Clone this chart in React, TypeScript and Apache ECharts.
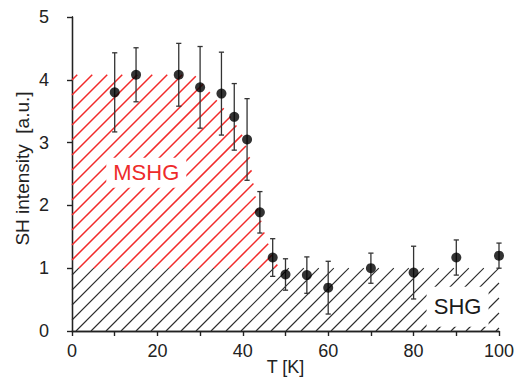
import React, { useEffect, useRef } from 'react';
import * as echarts from 'echarts';

// measured data (T in K, SH intensity in a.u., symmetric error)
const temperatures = [10, 15, 25, 30, 35, 38, 41, 44, 47, 50, 55, 60, 70, 80, 90, 100];
const intensities = [3.8, 4.08, 4.08, 3.88, 3.78, 3.41, 3.05, 1.89, 1.17, 0.9, 0.89, 0.69, 1.0, 0.93, 1.17, 1.2];
const errors = [0.63, 0.43, 0.5, 0.65, 0.66, 0.53, 0.65, 0.33, 0.3, 0.25, 0.29, 0.42, 0.24, 0.42, 0.28, 0.2];

// hatched regions (boundaries in data coordinates)
const mshgBoundaryT = [0, 28.7, 32.6, 36.9, 39.7, 41.6, 42.8, 44.7, 47, 48.6, 0];
const mshgBoundaryY = [4.08, 4.08, 3.78, 3.44, 3.15, 2.78, 2.2, 1.64, 1.18, 1.0, 1.0];
const shgBoundaryT = [0, 100, 100, 0];
const shgBoundaryY = [0, 0, 1, 1];

// region labels
const regionLabels = ['MSHG', 'SHG'];
const labelT = [17.4, 90.3];
const labelY = [2.52, 0.385];

// axis
const xMin = 0, xMax = 100, xStep = 10;
const yMin = 0, yMax = 5, yStep = 1;

const FONT = '"Liberation Sans", Arial, sans-serif';

function hatchLines(pts: number[][], spacing: number, phase: number) {
  const sums = pts.map((p) => p[0] + p[1]);
  const cMin = Math.min(...sums);
  const cMax = Math.max(...sums);
  const start = phase + Math.ceil((cMin - phase) / spacing) * spacing;
  const segs: number[][] = [];
  for (let c = start; c <= cMax; c += spacing) {
    const xs: number[] = [];
    for (let i = 0; i < pts.length; i++) {
      const a = pts[i];
      const b = pts[(i + 1) % pts.length];
      const fa = a[0] + a[1] - c;
      const fb = b[0] + b[1] - c;
      if ((fa < 0) !== (fb < 0)) {
        const t = fa / (fa - fb);
        xs.push(a[0] + t * (b[0] - a[0]));
      }
    }
    xs.sort((p, q) => p - q);
    for (let k = 0; k + 1 < xs.length; k += 2) {
      segs.push([xs[k], c - xs[k], xs[k + 1], c - xs[k + 1]]);
    }
  }
  return segs;
}

export default function App() {
  const ref = useRef<HTMLDivElement>(null);
  useEffect(() => {
    if (!ref.current) return;
    const chart = echarts.init(ref.current, null, { renderer: 'svg' });

    const regions = [
      { t: shgBoundaryT, y: shgBoundaryY, color: '#2a2a2a', width: 1.1 },
      { t: mshgBoundaryT, y: mshgBoundaryY, color: '#f22a2a', width: 1.5 },
    ];

    const axisLine = { show: true, lineStyle: { color: '#222', width: 1.3 } };

    const option: any = {
      animation: false,
      backgroundColor: '#fff',
      grid: { left: 72, right: 16, top: 17, bottom: 50, containLabel: false, outerBoundsMode: 'none' },
      xAxis: [
        {
          type: 'value', min: xMin, max: xMax, interval: xStep, position: 'bottom',
          axisLine, splitLine: { show: false },
          axisTick: { show: true, inside: false, length: 5, lineStyle: { color: '#222', width: 1.2 } },
          axisLabel: {
            fontSize: 18, color: '#222', fontFamily: FONT, margin: 11,
            formatter: (v: number) => (v % 20 === 0 ? String(v) : ''),
          },
          name: 'T [K]', nameLocation: 'middle', nameGap: 27, nameMoveOverlap: false,
          nameTextStyle: { fontSize: 18, color: '#222', fontFamily: FONT },
        },
        {
          type: 'value', min: xMin, max: xMax, interval: xStep, position: 'top',
          axisLine, splitLine: { show: false },
          axisTick: { show: true, inside: true, length: 5, lineStyle: { color: '#222', width: 1.2 } },
          axisLabel: { show: false },
        },
      ],
      yAxis: [
        {
          type: 'value', min: yMin, max: yMax, interval: yStep, position: 'left',
          axisLine, splitLine: { show: false },
          axisTick: { show: true, inside: false, length: 5, lineStyle: { color: '#222', width: 1.2 } },
          axisLabel: { fontSize: 18, color: '#222', fontFamily: FONT, margin: 23 },
          name: 'SH intensity  [a.u.]', nameLocation: 'middle', nameGap: 40, nameMoveOverlap: false,
          nameTextStyle: { fontSize: 19, color: '#222', fontFamily: FONT, padding: [0, 0, 0, 11] },
        },
        {
          type: 'value', min: yMin, max: yMax, interval: yStep, position: 'right',
          axisLine, splitLine: { show: false },
          axisTick: { show: true, inside: true, length: 5, lineStyle: { color: '#222', width: 1.2 } },
          axisLabel: { show: false },
        },
      ],
      series: [
        {
          type: 'custom',
          name: 'hatch',
          xAxisIndex: 0, yAxisIndex: 0,
          z: 1,
          silent: true,
          data: regions.map((_, i) => [i, 0]),
          renderItem: (params: any, api: any) => {
            const r = regions[params.dataIndex];
            const pts = r.t.map((t, i) => api.coord([t, r.y[i]]));
            const segs = hatchLines(pts, 15, 152);
            return {
              type: 'group',
              children: segs.map((s) => ({
                type: 'line',
                shape: { x1: s[0], y1: s[1], x2: s[2], y2: s[3] },
                style: { stroke: r.color, lineWidth: r.width },
              })),
            };
          },
        },
        {
          type: 'custom',
          name: 'labels',
          xAxisIndex: 0, yAxisIndex: 0,
          z: 2,
          silent: true,
          data: regionLabels.map((_, i) => [labelT[i], labelY[i]]),
          renderItem: (params: any, api: any) => {
            const i = params.dataIndex;
            const p = api.coord([labelT[i], labelY[i]]);
            const isM = i === 0;
            const w = isM ? 80 : 62;
            const h = isM ? 30 : 40;
            return {
              type: 'group',
              children: [
                { type: 'rect', shape: { x: p[0] - w / 2, y: p[1] - h / 2, width: w, height: h }, style: { fill: '#fff' } },
                {
                  type: 'text',
                  style: {
                    x: p[0], y: p[1], text: regionLabels[i],
                    fill: isM ? '#ee2b2b' : '#1a1a1a',
                    fontSize: 22, fontFamily: FONT,
                    align: 'center', verticalAlign: 'middle',
                  },
                },
              ],
            };
          },
        },
        {
          type: 'custom',
          name: 'errors',
          xAxisIndex: 0, yAxisIndex: 0,
          z: 3,
          silent: true,
          data: temperatures.map((t, i) => [t, intensities[i], errors[i]]),
          renderItem: (params: any, api: any) => {
            const t = api.value(0), v = api.value(1), e = api.value(2);
            const top = api.coord([t, v + e]);
            const bot = api.coord([t, v - e]);
            const cap = 2.6;
            const st = { stroke: '#333', lineWidth: 1.3 };
            return {
              type: 'group',
              children: [
                { type: 'line', shape: { x1: top[0], y1: top[1], x2: bot[0], y2: bot[1] }, style: st },
                { type: 'line', shape: { x1: top[0] - cap, y1: top[1], x2: top[0] + cap, y2: top[1] }, style: st },
                { type: 'line', shape: { x1: bot[0] - cap, y1: bot[1], x2: bot[0] + cap, y2: bot[1] }, style: st },
              ],
            };
          },
        },
        {
          type: 'scatter',
          name: 'SH intensity',
          xAxisIndex: 0, yAxisIndex: 0,
          z: 4,
          symbol: 'circle',
          symbolSize: 10,
          itemStyle: { color: '#000' },
          data: temperatures.map((t, i) => [t, intensities[i]]),
        },
      ],
    };
    chart.setOption(option);
    return () => chart.dispose();
  }, []);
  return (
    <div
      ref={ref}
      style={{ position: 'fixed', left: 0, top: 0, width: 515, height: 381, background: '#fff' }}
    />
  );
}
